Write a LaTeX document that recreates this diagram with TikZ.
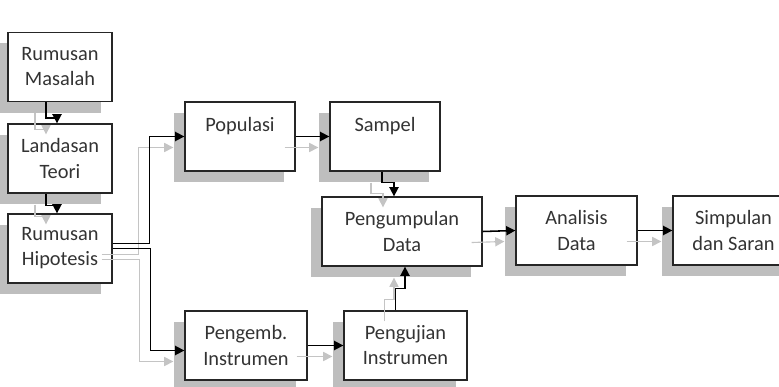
\documentclass[tikz,border=0pt]{standalone}
\usepackage{fontspec}
\setmainfont{Carlito}
\usepackage{xcolor}
\usetikzlibrary{arrows.meta,shadows}
\definecolor{shade}{HTML}{BEBEBE}
\definecolor{ghost}{HTML}{C4C4C4}

\tikzset{
  box/.style={draw=black!85, line width=0.9pt, fill=white, align=center,
    minimum height=1.725cm, inner sep=0pt, text=black!80,
    font=\fontsize{14.5}{17.8}\selectfont,
    general shadow={fill=shade, shadow xshift=-0.275cm, shadow yshift=-0.275cm}},
  link/.style={draw=black, line width=1.1pt, -{Triangle[length=6.5pt,width=6.5pt]},
    preaction={draw=ghost, line width=0.8pt,
      transform canvas={xshift=-0.275cm,yshift=-0.275cm}}}
}

\begin{document}
\begin{tikzpicture}[x=0.025cm,y=-0.025cm]
  \useasboundingbox (0,0) rectangle (779,387);
  % left column
  \node[box, minimum width=2.6cm] at(60,67)(masalah){Rumusan\\Masalah};
  \node[box, minimum width=2.6cm] at(60,158.5)(landasan){Landasan\\Teori};
  \node[box, minimum width=2.6cm] at(60,248.5)(hipotesis){Rumusan\\Hipotesis};
  % upper row
  \node[box, minimum width=2.75cm] at(240,136.5)(populasi){Populasi\\\mbox{}};
  \node[box, minimum width=2.75cm] at(385,136.5)(sampel){Sampel\\\mbox{}};
  % middle row
  \node[box, minimum width=4cm] at(402,231.5)(pengumpulan){Pengumpulan\\Data};
  \node[box, minimum width=3.025cm] at(576.5,230.5)(analisis){Analisis\\Data};
  \node[box, minimum width=3.025cm] at(733.5,230.5)(simpulan){Simpulan\\dan Saran};
  % lower row
  \node[box, minimum width=3.05cm] at(246,345.5)(pengemb){Pengemb.\\Instrumen};
  \node[box, minimum width=3.075cm] at(405.5,345.5)(pengujian){Pengujian\\Instrumen};
  % arrows
  \draw[link] ([xshift=-0.35cm]masalah.south) -- ++(0,16) -| ([xshift=-0.075cm]landasan.north);
  \draw[link] ([xshift=-0.35cm]landasan.south) -- ++(0,12) -| ([xshift=-0.075cm]hipotesis.north);
  \draw[link] ([yshift=0.125cm]hipotesis.east) -- ++(37,0) |- (populasi.west);
  \draw[link] (hipotesis.east) -- ++(38,0) |- ([yshift=-0.125cm]pengemb.west);
  \draw[link] (populasi.east) -- (sampel.west);
  \draw[link] ([xshift=-0.075cm]sampel.south) -- ++(0,11) -| ([xshift=-0.2cm]pengumpulan.north);
  \draw[link] (pengemb.east) -- (pengujian.west);
  \draw[link] ([xshift=-0.25cm]pengujian.north) -- ++(0,-22) -| ([xshift=0.075cm]pengumpulan.south);
  \draw[link] (pengumpulan.east) -- (analisis.west);
  \draw[link] (analisis.east) -- (simpulan.west);
\end{tikzpicture}
\end{document}
